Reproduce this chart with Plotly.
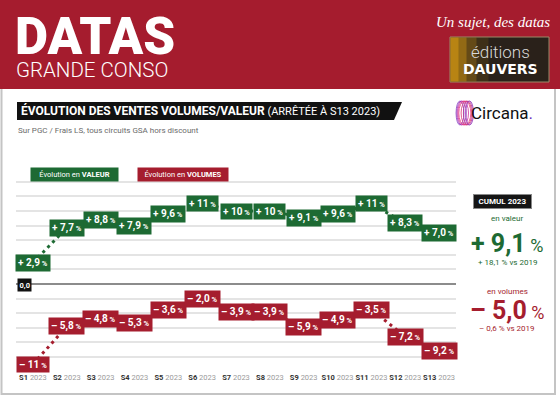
import plotly.graph_objects as go

# ---------------- data ----------------
weeks = ["S1", "S2", "S3", "S4", "S5", "S6", "S7", "S8", "S9", "S10", "S11", "S12", "S13"]
year_label = "2023"
valeur = [2.9, 7.7, 8.8, 7.9, 9.6, 11, 10, 10, 9.1, 9.6, 11, 8.3, 7.0]
volumes = [-11, -5.8, -4.8, -5.3, -3.6, -2.0, -3.9, -3.9, -5.9, -4.9, -3.5, -7.2, -9.2]
cumul_valeur = 9.1
cumul_valeur_2019 = 18.1
cumul_volumes = -5.0
cumul_volumes_2019 = -0.6

GREEN = "#1d6a33"
RED = "#a51d2e"
HEADER_RED = "#a51c2e"
FONT = "Roboto, sans-serif"

W, H = 560, 396


def px(x):
    return x / W


def py(y):
    return 1 - y / H


def fr(v, decimals_threshold=10):
    a = abs(v)
    s = f"{a:.0f}" if a >= decimals_threshold else f"{a:.1f}"
    return s.replace(".", ",")


def sign(v):
    return "+" if v >= 0 else "–"


idx = list(range(len(weeks)))

fig = go.Figure()

fig.add_trace(go.Scatter(x=idx, y=valeur, mode="lines",
                         line=dict(color=GREEN, width=3, dash="3px,4px"),
                         hoverinfo="skip", showlegend=False))
fig.add_trace(go.Scatter(x=idx, y=volumes, mode="lines",
                         line=dict(color=RED, width=3, dash="3px,4px"),
                         hoverinfo="skip", showlegend=False))

annotations = []
for series, col in ((valeur, GREEN), (volumes, RED)):
    for i, v in zip(idx, series):
        annotations.append(dict(
            x=i, y=v, xref="x", yref="y", showarrow=False,
            text=f"{sign(v)} {fr(v)}<span style='font-size:7.5px'> %</span>",
            font=dict(family=FONT, size=10, color="white", weight="bold"),
            bgcolor=col, borderpad=2, xanchor="center", yanchor="middle"))

ticktext = [f"<b>{w}</b> <span style='color:#9a9a9a'>{year_label}</span>" for w in weeks]

shapes = []
# header band
shapes.append(dict(type="rect", xref="paper", yref="paper", x0=0, x1=1,
                   y0=py(89), y1=1, fillcolor=HEADER_RED, line=dict(width=0), layer="below"))
# frame
shapes.append(dict(type="path", xref="paper", yref="paper",
                   path=f"M {px(1.5)} {py(89)} L {px(1.5)} {py(394)} L {px(555)} {py(394)} L {px(555)} {py(89)}",
                   line=dict(color="#c4c4c4", width=2), layer="below"))
# title bar parallelogram
shapes.append(dict(type="path", xref="paper", yref="paper",
                   path=f"M {px(17)} {py(102)} L {px(402)} {py(102)} L {px(394)} {py(120)} L {px(17)} {py(120)} Z",
                   fillcolor="#111111", line=dict(width=0)))
# Dauvers logo box
shapes.append(dict(type="rect", xref="paper", yref="paper", x0=px(450), x1=px(549),
                   y0=py(82), y1=py(37), fillcolor="#2a211a",
                   line=dict(color="#9b8a68", width=1)))
for op, w in [(0.55, 8), (0.4, 16), (0.25, 26), (0.12, 38)]:
    shapes.append(dict(type="rect", xref="paper", yref="paper", x0=px(450.5), x1=px(450.5 + w),
                       y0=py(81.5), y1=py(37.5), fillcolor="#d89a14", opacity=op,
                       line=dict(width=0)))
# Circana rings
ring_cols = ["#7b2fbf", "#a52fb0", "#d0309a", "#e53b7c", "#d8306e", "#b83090", "#8a30b8"]
for k, c in enumerate(ring_cols):
    cx = 460 + k * 1.6
    hw = 6.0 - abs(k - 3) * 0.7
    shapes.append(dict(type="circle", xref="paper", yref="paper",
                       x0=px(cx - hw), x1=px(cx + hw), y0=py(125), y1=py(101),
                       line=dict(color=c, width=0.8)))

annotations += [
    dict(xref="paper", yref="paper", x=px(24), y=py(284.5), showarrow=False,
         text="<b>0,0</b>", font=dict(family=FONT, size=7.5, color="white"),
         bgcolor="#111111", borderpad=1.5, xanchor="center", yanchor="middle"),
    # header texts
    dict(xref="paper", yref="paper", x=px(13), y=py(36), showarrow=False,
         text="DATAS", font=dict(family=FONT, size=51, color="white", weight=900),
         xanchor="left", yanchor="middle", height=44),
    dict(xref="paper", yref="paper", x=px(14), y=py(70), showarrow=False,
         text="GRANDE CONSO", font=dict(family=FONT, size=20.5, color="white", weight=300),
         xanchor="left", yanchor="middle", height=20),
    dict(xref="paper", yref="paper", x=px(552), y=py(22), showarrow=False,
         text="<i>Un sujet, des datas</i>",
         font=dict(family="Liberation Serif, DejaVu Serif, serif", size=15, color="white"),
         xanchor="right", yanchor="middle"),
    dict(xref="paper", yref="paper", x=px(500), y=py(52), showarrow=False,
         text="éditions", font=dict(family=FONT, size=17, color="#d9d9d9", weight=300),
         xanchor="center", yanchor="middle"),
    dict(xref="paper", yref="paper", x=px(500), y=py(69), showarrow=False,
         text="<b>DAUVERS</b>", font=dict(family="DejaVu Sans, sans-serif", size=14, color="white"),
         xanchor="center", yanchor="middle"),
    # title
    dict(xref="paper", yref="paper", x=px(19), y=py(111), showarrow=False,
         text="<b>ÉVOLUTION DES VENTES VOLUMES/VALEUR</b>"
              "<span style='font-size:11px'> (ARRÊTÉE À S13 2023)</span>",
         font=dict(family=FONT, size=12, color="white"),
         xanchor="left", yanchor="middle"),
    dict(xref="paper", yref="paper", x=px(16), y=py(130), showarrow=False,
         text="Sur PGC / Frais LS, tous circuits GSA hors discount",
         font=dict(family=FONT, size=8, color="#6a6a6a"),
         xanchor="left", yanchor="middle"),
    # circana text
    dict(xref="paper", yref="paper", x=px(469), y=py(113), showarrow=False,
         text="Circana<span style='color:#6a2fc0'>.</span>",
         font=dict(family=FONT, size=17, color="#111111"),
         xanchor="left", yanchor="middle"),
    # legend boxes
    dict(xref="paper", yref="paper", x=px(74.5), y=py(174.5), showarrow=False,
         text="Évolution en <b>VALEUR</b>", width=84, height=10,
         font=dict(family=FONT, size=7.5, color="white"),
         bgcolor=GREEN, borderpad=1.5, xanchor="center", yanchor="middle"),
    dict(xref="paper", yref="paper", x=px(183), y=py(174.5), showarrow=False,
         text="Évolution en <b>VOLUMES</b>", width=87, height=10,
         font=dict(family=FONT, size=7.5, color="white"),
         bgcolor=RED, borderpad=1.5, xanchor="center", yanchor="middle"),
    # cumul panel
    dict(xref="paper", yref="paper", x=px(502), y=py(201), showarrow=False,
         text="<b>CUMUL 2023</b>", width=54, height=10,
         font=dict(family=FONT, size=8, color="white"),
         bgcolor="#151515", bordercolor="#888888", borderwidth=1, borderpad=1.5,
         xanchor="center", yanchor="middle"),
    dict(xref="paper", yref="paper", x=px(507), y=py(218), showarrow=False,
         text="en valeur", font=dict(family=FONT, size=8, color=GREEN),
         xanchor="center", yanchor="middle"),
    dict(xref="paper", yref="paper", x=px(507), y=py(243), showarrow=False,
         text=f"<b>{sign(cumul_valeur)} {fr(cumul_valeur, 100)}</b><span style='font-size:18px'> %</span>",
         font=dict(family=FONT, size=25, color=GREEN),
         xanchor="center", yanchor="middle"),
    dict(xref="paper", yref="paper", x=px(507), y=py(262), showarrow=False,
         text=f"{sign(cumul_valeur_2019)} {fr(cumul_valeur_2019, 100)} % vs 2019",
         font=dict(family=FONT, size=8, color=GREEN),
         xanchor="center", yanchor="middle"),
    dict(xref="paper", yref="paper", x=px(507), y=py(291), showarrow=False,
         text="en volumes", font=dict(family=FONT, size=8, color=RED),
         xanchor="center", yanchor="middle"),
    dict(xref="paper", yref="paper", x=px(507), y=py(310), showarrow=False,
         text=f"<b>{sign(cumul_volumes)} {fr(cumul_volumes, 100)}</b><span style='font-size:18px'> %</span>",
         font=dict(family=FONT, size=25, color=RED),
         xanchor="center", yanchor="middle"),
    dict(xref="paper", yref="paper", x=px(507), y=py(328), showarrow=False,
         text=f"{sign(cumul_volumes_2019)} {fr(cumul_volumes_2019, 100)} % vs 2019",
         font=dict(family=FONT, size=8, color=RED),
         xanchor="center", yanchor="middle"),
]

fig.update_layout(
    width=W, height=H, margin=dict(l=0, r=0, t=0, b=0),
    paper_bgcolor="white", plot_bgcolor="white",
    showlegend=False,
    shapes=shapes, annotations=annotations,
    xaxis=dict(domain=[px(16), px(456)], range=[-0.5, 12.5],
               tickvals=idx, ticktext=ticktext, showgrid=False, zeroline=False,
               showline=False, ticks="", tickangle=0,
               tickfont=dict(family=FONT, size=7.5, color="#333333")),
    yaxis=dict(domain=[py(371.6), py(167.2)], range=[-12, 16], dtick=2,
               showgrid=True, gridcolor="#e4e4e4", gridwidth=1.5,
               zeroline=True, zerolinecolor="#8c8c8c", zerolinewidth=2,
               showticklabels=False, ticks="", showline=False),
)

fig.write_html("out.html", config={"displayModeBar": False},
               post_script="document.body.style.margin='0px';document.body.style.overflow='hidden';")
